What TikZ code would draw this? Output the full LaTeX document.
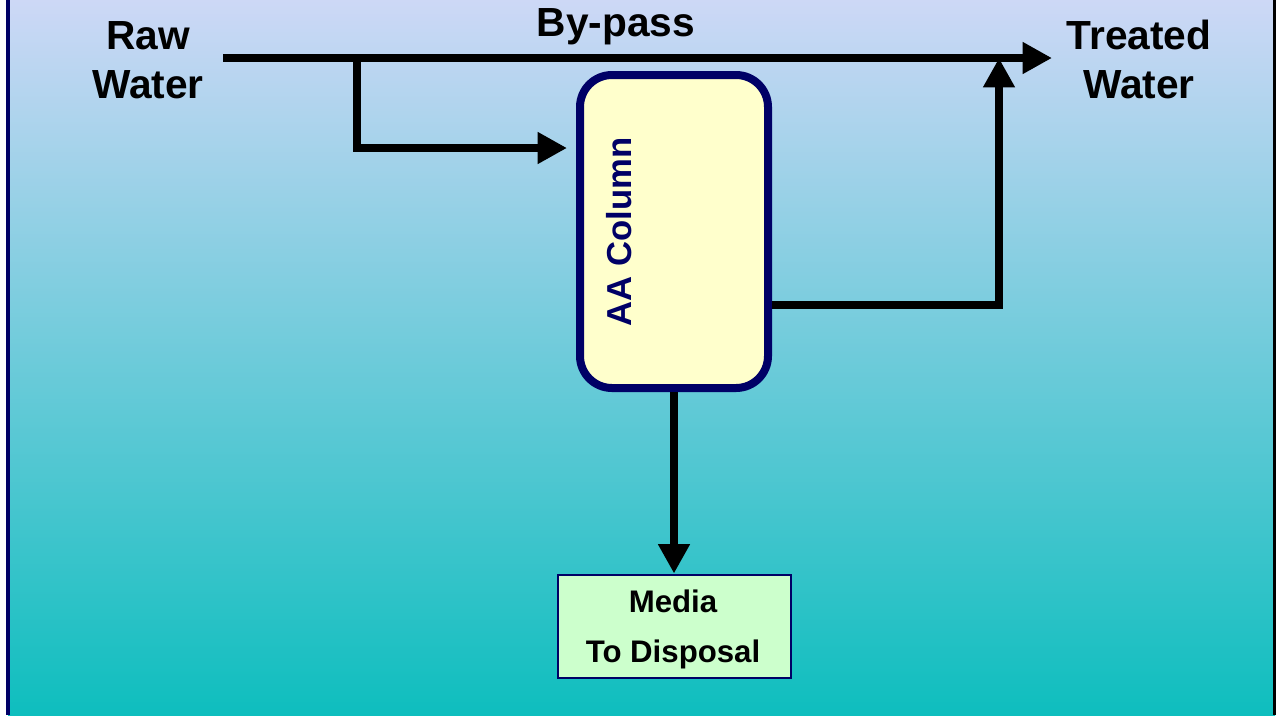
\documentclass[tikz,border=0pt]{standalone}
\usepackage{fontspec}
\setmainfont{Liberation Sans}
\usetikzlibrary{arrows.meta,calc}
\definecolor{bgtop}{RGB}{205,216,246}
\definecolor{bgmid}{RGB}{122,199,213}
\definecolor{bgbot}{RGB}{14,190,190}
\definecolor{navy}{RGB}{0,0,102}
\definecolor{colfill}{RGB}{255,255,204}
\definecolor{medfill}{RGB}{204,255,204}
\tikzset{
  flow/.style={line width=6pt, draw=black, line join=miter,
    -{Triangle[length=22pt,width=22.5pt]}},
  biglabel/.style={font=\fontsize{30.5}{36.75}\selectfont\bfseries, align=center, inner sep=0pt, text=black},
  column/.style={draw=navy, line width=6pt, fill=colfill, rounded corners=24pt,
    minimum width=141pt, minimum height=234.75pt, inner sep=0pt},
  medbox/.style={draw=navy, line width=1.5pt, fill=medfill, minimum width=174.75pt,
    minimum height=77.25pt, inner sep=0pt, align=center,
    font=\fontsize{23.4}{37.5}\selectfont\bfseries},
}
\begin{document}
\begin{tikzpicture}[x=0.75pt,y=-0.75pt]
\useasboundingbox (0,0) rectangle (1277,715);
% background
\shade[top color=bgtop, middle color=bgmid, bottom color=bgbot] (8,0) rectangle (1275,715);
\draw[navy, line width=3pt] (8,0) -- (8,715);
\draw[black, line width=1.8pt] (1274.5,0) -- (1274.5,715);
% labels
\node[biglabel] (raw) at (148,60) {Raw\\Water};
\node[biglabel] (treated) at (1139,59) {Treated\\Water};
\node[biglabel, anchor=base] (bypass) at (616,36.5) {By-pass};
% column
\node[column] (col) at (674,231.5) {};
\node[rotate=90, text=navy, font=\fontsize{26}{30}\selectfont\bfseries, inner sep=0pt] (collabel) at (619,232) {AA Column};
% media box
\node[medbox] (media) at (674,626) {};
\node[align=center, inner sep=0pt, font=\fontsize{23.4}{37.5}\selectfont\bfseries] (medtext) at (673,629) {Media\\To Disposal};
% coordinates
\coordinate (rawin) at (223,58);
\coordinate (twout) at (1052,58);
\coordinate (split) at (357,62);
\coordinate (colin) at (567,148);
\coordinate (merge) at (999,58);
% connectors
\draw[flow] (rawin) -- (twout);
\draw[flow] (split) |- (colin);
\draw[flow] ($(col.east)+(0,73.5)$) -| (merge);
\draw[flow] (col.south) -- (media.north);
\end{tikzpicture}
\end{document}
